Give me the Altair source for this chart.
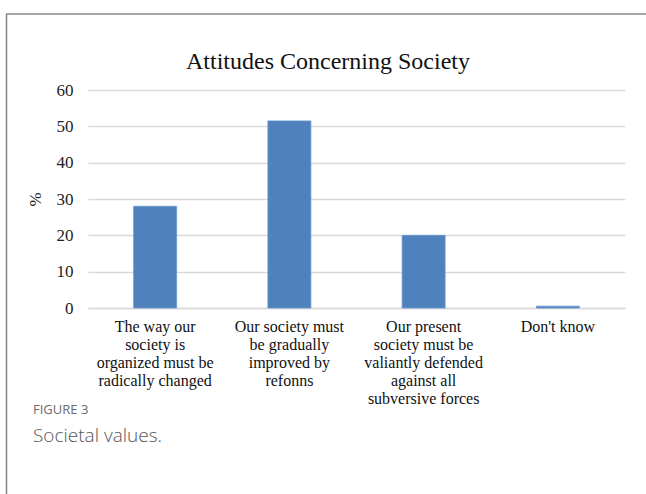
import altair as alt
import pandas as pd

# Survey answers (line breaks mark how the axis labels wrap) and their shares in %
answers = [
    "The way our\nsociety is\norganized must be\nradically changed",
    "Our society must\nbe gradually\nimproved by\nrefonns",
    "Our present\nsociety must be\nvaliantly defended\nagainst all\nsubversive forces",
    "Don't know",
]
shares = [28.0, 51.5, 20.0, 0.5]
y_ticks = [0, 10, 20, 30, 40, 50, 60]

chart_title = "Attitudes Concerning Society"
fig_label = "FIGURE 3"
fig_caption = "Societal values."

df = pd.DataFrame({"answer": answers, "share": shares})

SERIF = "Liberation Serif"
SANS = "Open Sans"

bars = alt.Chart(df).mark_bar(
    color="#4f81bd", stroke="#6a97cf", strokeWidth=0.8, size=43
).encode(
    x=alt.X(
        "answer:N",
        sort=answers,
        scale=alt.Scale(paddingInner=0, paddingOuter=0),
        axis=alt.Axis(
            title=None,
            labelAngle=0,
            labelExpr="split(datum.value, '\\n')",
            labelFont=SERIF,
            labelFontSize=16,
            labelLineHeight=18,
            labelColor="#111111",
            labelPadding=10,
            ticks=False,
            domain=True,
            domainColor="#d9d9d9",
            domainWidth=1.5,
            labelLimit=0,
        ),
    ),
    y=alt.Y(
        "share:Q",
        scale=alt.Scale(domain=[0, 60], nice=False),
        axis=alt.Axis(
            title="%",
            values=y_ticks,
            labelFont=SERIF,
            labelFontSize=17,
            labelColor="#222222",
            labelPadding=15,
            ticks=False,
            domain=False,
            gridColor="#d9d9d9",
            gridWidth=1.5,
            titleFont=SERIF,
            titleFontSize=17,
            titleFontWeight="normal",
            titleColor="#222222",
            titlePadding=12,
        ),
    ),
)

heading = alt.Chart(pd.DataFrame({"t": [chart_title]})).mark_text(
    font=SERIF, fontSize=24, color="#111111", align="center", baseline="middle"
).encode(x=alt.value(240), y=alt.value(-28), text="t:N")

label = alt.Chart(pd.DataFrame({"t": [fig_label]})).mark_text(
    font=SANS, fontSize=13, color="#6b6b6b", align="left", baseline="middle"
).encode(x=alt.value(-55), y=alt.value(320), text="t:N")

caption = alt.Chart(pd.DataFrame({"t": [fig_caption]})).mark_text(
    font=SANS, fontSize=19, fontWeight=300, color="#555555", align="left", baseline="middle"
).encode(x=alt.value(-55), y=alt.value(346), text="t:N")

# frame lines along the top and left edge of the figure box
frame_top = alt.Chart(pd.DataFrame({"k": [0]})).mark_rule(
    color="#8a8a8a", strokeWidth=1.6
).encode(x=alt.value(-82), x2=alt.value(560), y=alt.value(-76))

frame_left = alt.Chart(pd.DataFrame({"k": [0]})).mark_rule(
    color="#8a8a8a", strokeWidth=1.6
).encode(x=alt.value(-81.5), y=alt.value(-76), y2=alt.value(410))

chart = alt.layer(bars, heading, label, caption, frame_top, frame_left).properties(
    width=537,
    height=218,
    autosize=alt.AutoSizeParams(type="none"),
    padding={"left": 88, "top": 90, "right": 21, "bottom": 186},
    background="white",
).configure_view(stroke=None)

chart.save("out.html", embed_options={"renderer": "svg", "actions": False})
